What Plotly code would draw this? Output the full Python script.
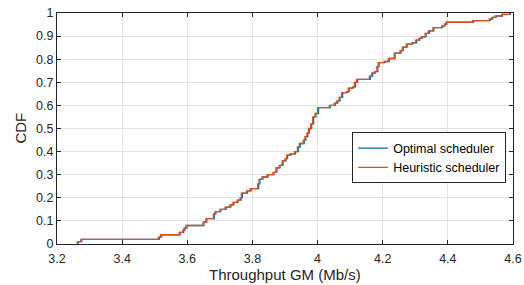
import plotly.graph_objects as go

# Step points of the empirical CDFs (x: throughput GM in Mb/s, y: CDF after step)
heur_x = [3.262, 3.262, 3.273, 3.511, 3.518, 3.575, 3.586, 3.590, 3.596, 3.648,
          3.657, 3.680, 3.685, 3.700, 3.716, 3.731, 3.740, 3.753, 3.762, 3.766,
          3.782, 3.793, 3.816, 3.820, 3.829, 3.845, 3.863, 3.872, 3.882, 3.891,
          3.900, 3.905, 3.915, 3.929, 3.938, 3.944, 3.956, 3.961, 3.967, 3.972,
          3.979, 3.985, 3.992, 4.000, 4.036, 4.051, 4.059, 4.066, 4.074, 4.089,
          4.094, 4.107, 4.113, 4.120, 4.159, 4.166, 4.174, 4.182, 4.186, 4.204,
          4.217, 4.235, 4.253, 4.260, 4.272, 4.289, 4.301, 4.311, 4.318, 4.330,
          4.340, 4.354, 4.381, 4.389, 4.394, 4.476, 4.527, 4.535, 4.545, 4.565,
          4.589]
heur_y = [0.000, 0.010, 0.020, 0.030, 0.040, 0.050, 0.060, 0.070, 0.080, 0.095,
          0.110, 0.130, 0.140, 0.150, 0.160, 0.170, 0.180, 0.190, 0.200, 0.220,
          0.230, 0.240, 0.260, 0.280, 0.290, 0.300, 0.310, 0.330, 0.340, 0.360,
          0.370, 0.385, 0.390, 0.400, 0.420, 0.435, 0.450, 0.465, 0.480, 0.500,
          0.520, 0.550, 0.565, 0.590, 0.600, 0.610, 0.620, 0.635, 0.655, 0.660,
          0.675, 0.680, 0.700, 0.713, 0.727, 0.740, 0.746, 0.768, 0.785, 0.790,
          0.803, 0.826, 0.837, 0.852, 0.865, 0.871, 0.883, 0.890, 0.897, 0.912,
          0.923, 0.937, 0.944, 0.952, 0.960, 0.967, 0.974, 0.981, 0.987, 0.994,
          1.000]

opt_x = [3.265, 3.265, 3.276, 3.514, 3.521, 3.578, 3.589, 3.593, 3.599, 3.651,
         3.660, 3.683, 3.688, 3.703, 3.719, 3.734, 3.743, 3.756, 3.765, 3.769,
         3.785, 3.796, 3.819, 3.823, 3.832, 3.848, 3.866, 3.875, 3.885, 3.894,
         3.903, 3.908, 3.918, 3.932, 3.941, 3.947, 3.959, 3.964, 3.970, 3.975,
         3.982, 3.988, 3.995, 4.003, 4.039, 4.054, 4.062, 4.069, 4.077, 4.092,
         4.097, 4.110, 4.116, 4.123, 4.162, 4.169, 4.177, 4.185, 4.189, 4.207,
         4.220, 4.238, 4.256, 4.263, 4.275, 4.292, 4.304, 4.314, 4.321, 4.333,
         4.343, 4.357, 4.384, 4.392, 4.397, 4.479, 4.530, 4.538, 4.548, 4.568,
         4.592]
opt_y = heur_y[:]

x_ticks = [3.2, 3.4, 3.6, 3.8, 4.0, 4.2, 4.4, 4.6]
x_tick_labels = ["3.2", "3.4", "3.6", "3.8", "4", "4.2", "4.4", "4.6"]
y_ticks = [0, 0.1, 0.2, 0.3, 0.4, 0.5, 0.6, 0.7, 0.8, 0.9, 1]
y_tick_labels = ["0", "0.1", "0.2", "0.3", "0.4", "0.5", "0.6", "0.7", "0.8", "0.9", "1"]

FONT = "Liberation Sans, Arial, Helvetica, sans-serif"
AX = "#262626"

fig = go.Figure()
fig.add_trace(go.Scatter(x=opt_x, y=opt_y, mode="lines", line_shape="hv",
                         line=dict(color="#0072BD", width=1.3),
                         name="Optimal scheduler"))
fig.add_trace(go.Scatter(x=heur_x, y=heur_y, mode="lines", line_shape="hv",
                         line=dict(color="#D95319", width=1.3),
                         name="Heuristic scheduler"))

axis_common = dict(showline=True, linecolor=AX, linewidth=1, mirror="ticks",
                   ticks="inside", ticklen=4, tickcolor=AX, tickwidth=1,
                   showgrid=True, gridcolor="#e3e3e3", gridwidth=1,
                   zeroline=False, automargin=False,
                   tickfont=dict(family=FONT, size=12.5, color=AX))

fig.update_xaxes(range=[3.2, 4.6], tickvals=x_ticks, ticktext=x_tick_labels,
                 ticklabelstandoff=3, **axis_common)
fig.update_yaxes(range=[0, 1], tickvals=y_ticks, ticktext=y_tick_labels,
                 **axis_common)

fig.add_annotation(text="Throughput GM (Mb/s)", xref="paper", yref="paper",
                   x=0.5, y=-0.132, xanchor="center", yanchor="middle",
                   showarrow=False, font=dict(family=FONT, size=15, color=AX))
fig.add_annotation(text="CDF", xref="paper", yref="paper",
                   x=-0.081, y=0.5, xanchor="center", yanchor="middle", textangle=-90,
                   showarrow=False, font=dict(family=FONT, size=15, color=AX))

fig.update_layout(
    width=524, height=285,
    margin=dict(l=57, r=11, t=13, b=41),
    paper_bgcolor="white", plot_bgcolor="white",
    showlegend=True,
    legend=dict(x=0.985, xanchor="right", y=0.483, yanchor="top",
                bgcolor="white", bordercolor=AX, borderwidth=1,
                font=dict(family=FONT, size=12.5, color="black"),
                tracegroupgap=0, itemwidth=30),
)

fig.write_html("out.html", config={"displayModeBar": False},
               post_script="document.body.style.margin='0';document.body.style.overflow='hidden';")
